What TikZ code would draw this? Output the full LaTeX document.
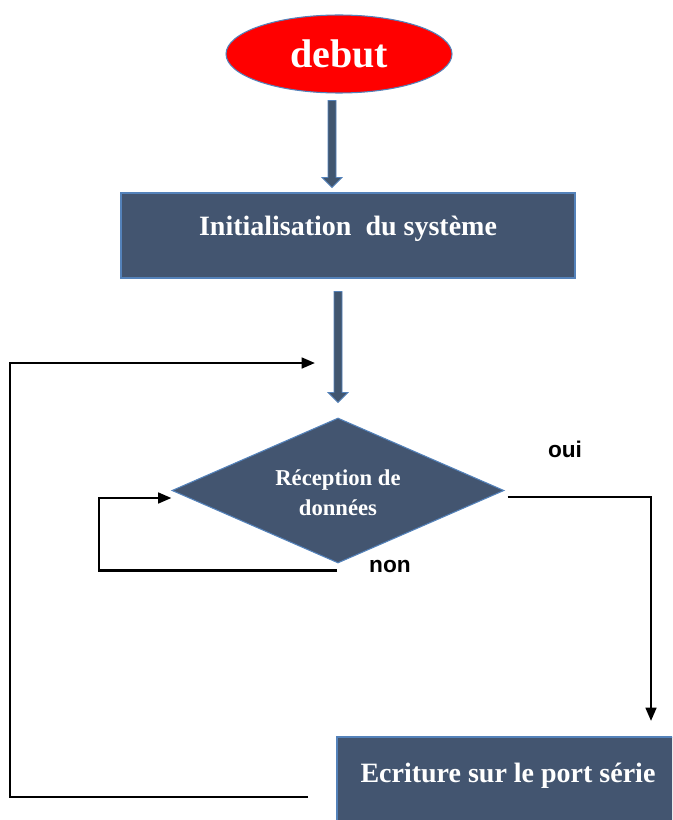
\documentclass[tikz,border=0pt]{standalone}
\usepackage{fontspec}
\setmainfont{Liberation Serif}
\newfontfamily\tagfont{Liberation Sans}
\usetikzlibrary{shapes.geometric,arrows.meta,calc}

\definecolor{slate}{RGB}{67,85,112}
\definecolor{edgeblue}{RGB}{84,130,186}
\definecolor{shaftcol}{RGB}{65,86,111}

\tikzset{
  startnode/.style={ellipse, fill=red, draw=edgeblue, line width=0.8pt,
    minimum width=169.5pt, minimum height=58.5pt, inner sep=0pt,
    text=white, font=\fontsize{30}{34}\selectfont\bfseries},
  procbox/.style={rectangle, fill=slate, draw=edgeblue, line width=0.8pt,
    inner sep=0pt},
  boxtext/.style={text=white, font=\fontsize{21}{25}\selectfont\bfseries},
  testnode/.style={diamond, fill=slate, draw=edgeblue, line width=0.8pt,
    minimum width=249pt, minimum height=108.75pt, inner sep=0pt},
  testtext/.style={text=white, align=center,
    font=\fontsize{17}{22.5}\selectfont\bfseries},
  fatarrow/.style={fill=shaftcol, draw=edgeblue, line width=0.6pt},
  conn/.style={draw=black, line width=1.9pt},
  flow/.style={conn, -{Triangle[length=10pt,width=8pt]}},
  tag/.style={font=\tagfont\fontsize{17}{20}\selectfont\bfseries}
}

% broad flow arrow: shaft from #1 straight down to the tip at the height of #2
\newcommand\fatarrow[2]{%
  \path[fatarrow] let \p1=#1, \p2=#2 in
    (\x1-3pt,\y1) -- (\x1+3pt,\y1) -- (\x1+3pt,\y2+7.5pt)
    -- (\x1+7.5pt,\y2+7.5pt) -- (\x1,\y2) -- (\x1-7.5pt,\y2+7.5pt)
    -- (\x1-3pt,\y2+7.5pt) -- cycle;}

\begin{document}
\begin{tikzpicture}[x=0.75pt,y=-0.75pt]
  \clip (0,0) rectangle (672,820);
  \fill[white] (0,0) rectangle (672,820);

  % start
  \node[startnode] (debut) at (339,54) {debut};

  % initialisation
  \node[procbox, minimum width=340.5pt, minimum height=63.75pt,
        label={[boxtext, yshift=5pt]center:Initialisation~ du système}]
        (init) at (348,235.5) {};

  % test on incoming data
  \node[testnode,
        label={[testtext, yshift=-1.5pt]center:Réception de\\données}]
        (dia) at (338,490.5) {};

  % writing to the serial port
  \node[procbox, minimum width=272.25pt, minimum height=92.25pt,
        label={[boxtext, xshift=-7.9pt, yshift=16.9pt]center:Ecriture sur le port série}]
        (write) at (518.5,798.5) {};

  % broad arrows
  \fatarrow{($(debut.south)+(-7,7)$)}{($(init.north)+(-16,-5)$)}
  \fatarrow{($(init.south)+(-10,13)$)}{($(dia.north)+(0,-15)$)}

  % yes branch
  \coordinate (ouiEnd) at (651,721);
  \draw[flow] ($(dia.east)+(3,6.5)$) -| (ouiEnd);
  \node[tag] (oui) at (565,449) {oui};

  % no branch, back into the test
  \draw[flow] ($(dia.south)+(-1,7)$) -| (99,498) -- ($(dia.west)+(0,7.5)$);
  \node[tag] (non) at (390,566) {non};

  % return loop after writing
  \coordinate (loopStart) at (308,797);
  \coordinate (loopEnd) at (315,363);
  \draw[flow] (loopStart) -| (10,363) -- (loopEnd);
\end{tikzpicture}
\end{document}
